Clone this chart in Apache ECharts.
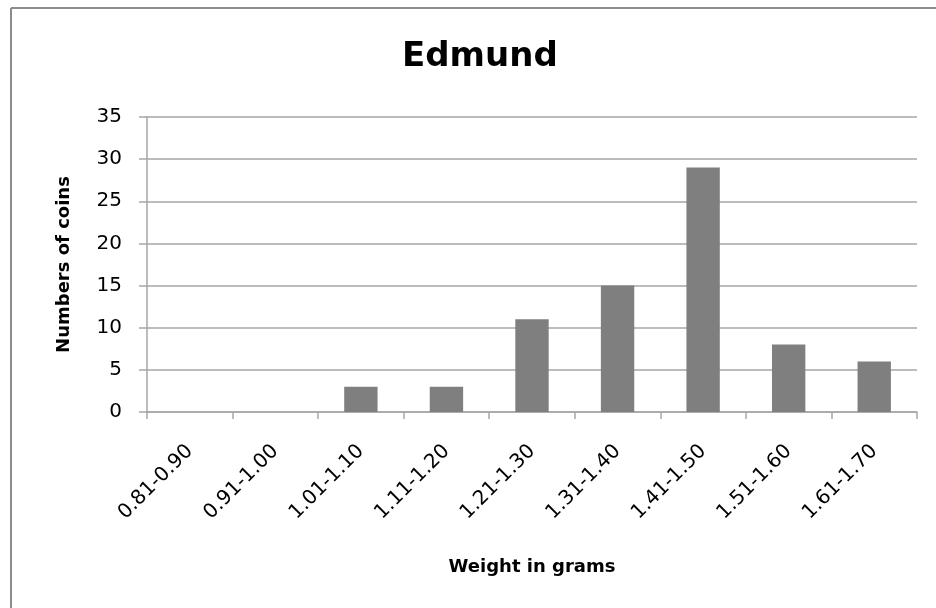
<!DOCTYPE html>
<html>
<head>
<meta charset="utf-8">
<script src="https://cdn.jsdelivr.net/npm/echarts@6/dist/echarts.min.js"></script>
<style>
  html, body { margin: 0; padding: 0; background: #fff; }
  #main { width: 936px; height: 608px; }
</style>
</head>
<body>
<div id="main"></div>
<script>
var categories = ["0.81-0.90", "0.91-1.00", "1.01-1.10", "1.11-1.20", "1.21-1.30",
  "1.31-1.40", "1.41-1.50", "1.51-1.60", "1.61-1.70"];
var coinCounts = [0, 0, 3, 3, 11, 15, 29, 8, 6];

var chartDom = document.getElementById("main");
var myChart = echarts.init(chartDom);
var font = "'DejaVu Sans', sans-serif";
var gray = "#a6a6a6";

var option = {
  animation: false,
  textStyle: { fontFamily: font },
  graphic: [
    { type: "line", shape: { x1: 11, y1: 8, x2: 936, y2: 8 }, style: { stroke: "#8c8c8c", lineWidth: 2 } },
    { type: "line", shape: { x1: 11, y1: 8, x2: 11, y2: 608 }, style: { stroke: "#8c8c8c", lineWidth: 2 } },
  ],
  title: {
    text: "Edmund",
    left: 397,
    top: 35,
    textStyle: { fontFamily: font, fontSize: 34, fontWeight: "bold", color: "#000" },
  },
  grid: { left: 147, right: 19, top: 117, bottom: 196 },
  xAxis: {
    type: "category",
    data: categories,
    name: "Weight in grams",
    nameLocation: "middle",
    nameGap: 146,
    nameTextStyle: { fontFamily: font, fontSize: 18, fontWeight: "bold", color: "#000" },
    axisLine: { lineStyle: { color: gray, width: 1.5 } },
    axisTick: { show: true, length: 7, lineStyle: { color: gray, width: 1.5 } },
    axisLabel: { rotate: 45, interval: 0, margin: 36, fontSize: 20, color: "#000", fontFamily: font },
  },
  yAxis: {
    type: "value",
    min: 0,
    max: 35,
    interval: 5,
    name: "Numbers of coins",
    nameLocation: "middle",
    nameGap: 74,
    nameTextStyle: { fontFamily: font, fontSize: 18, fontWeight: "bold", color: "#000" },
    axisLine: { show: true, lineStyle: { color: gray, width: 1.5 } },
    axisTick: { show: true, length: 8, lineStyle: { color: gray, width: 1.5 } },
    axisLabel: { margin: 25, fontSize: 20, color: "#000", fontFamily: font },
    splitLine: { lineStyle: { color: gray, width: 1.5 } },
  },
  series: [
    {
      type: "bar",
      data: coinCounts,
      barWidth: "39%",
      itemStyle: { color: "#7f7f7f" },
    },
  ],
};
myChart.setOption(option);
</script>
</body>
</html>
